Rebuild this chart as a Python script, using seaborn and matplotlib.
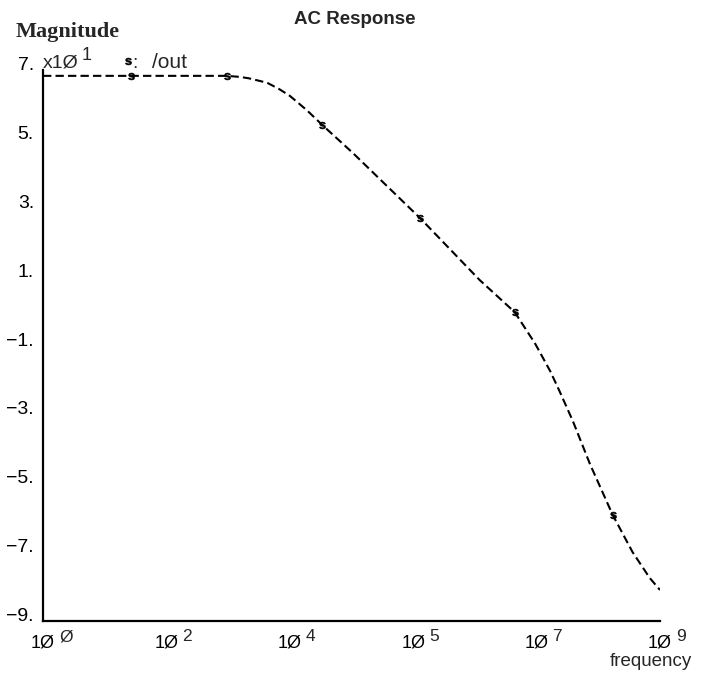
import numpy as np
import pandas as pd
import matplotlib
matplotlib.use("Agg")
import matplotlib.pyplot as plt
import seaborn as sns

# AC sweep of node /out: log10 of frequency (Hz) and magnitude (dB)
log_freq = [0.00, 1.28, 2.68, 2.87, 3.00, 3.27, 3.45, 3.60, 3.85, 4.07,
            4.52, 5.50, 6.37, 6.88, 7.18, 7.40, 7.54, 7.73, 7.98, 8.31,
            8.60, 8.85, 9.00]
magnitude_db = [68.3, 68.3, 68.3, 68.0, 67.6, 66.3, 64.4, 62.5, 58.3, 54.1,
                45.9, 27.0, 9.0, -0.3, -9.5, -17.5, -23.5, -32.0, -44.5, -59.2,
                -70.0, -77.5, -81.0]
# sweep points that carry the trace symbol
marked_points = [1, 2, 9, 11, 13, 19]

# axis ticks
x_tick_log = [0.0, 1.8, 3.6, 5.4, 7.2, 9.0]
x_tick_exp = ["Ø", "2", "4", "5", "7", "9"]
y_ticks = [-90, -70, -50, -30, -10, 10, 30, 50, 70]
y_tick_labels = ["−9.", "−7.", "−5.", "−3.", "−1.", "1.", "3.", "5.", "7."]

trace_name = "/out"

sns.set_theme(style="white")
plt.rcParams["font.family"] = ["Liberation Sans", "DejaVu Sans"]
plt.rcParams["mathtext.fontset"] = "custom"
plt.rcParams["mathtext.bf"] = "Liberation Sans:bold"

df = pd.DataFrame({"freq": np.power(10.0, log_freq), "mag": magnitude_db})

W, H = 702, 675
fig = plt.figure(figsize=(W / 100, H / 100), dpi=100)
ax = fig.add_axes([43 / W, 1 - 621 / H, (660 - 43) / W, (621 - 70) / H])

sym = r"$\mathbf{s}$"
sns.lineplot(data=df, x="freq", y="mag", ax=ax, color="black", estimator=None,
             sort=False, linewidth=1.5, linestyle=(0, (4, 2)),
             marker=sym, markevery=marked_points, markersize=5,
             markerfacecolor="black", markeredgecolor="black",
             markeredgewidth=0.4)

ax.set_xscale("log")
ax.set_xlim(1, 1e9)
ax.set_ylim(-90, 70)
ax.set_xlabel("")
ax.set_ylabel("")

for side in ("top", "right"):
    ax.spines[side].set_visible(False)
for side in ("left", "bottom"):
    ax.spines[side].set_color("black")
    ax.spines[side].set_linewidth(1.6)

xt = np.power(10.0, x_tick_log)
ax.set_xticks(xt)
ax.set_xticklabels(["1Ø"] * len(xt))
ax.xaxis.set_minor_locator(matplotlib.ticker.NullLocator())
ax.set_yticks(y_ticks)
ax.set_yticklabels(y_tick_labels)

ax.tick_params(axis="both", direction="in", length=4, width=1.2,
               colors="black")
ax.tick_params(axis="x", pad=9.5, labelsize=13)
ax.tick_params(axis="y", pad=6.5, labelsize=14)
for lab in ax.get_yticklabels():
    lab.set_va("baseline")

# raised decade exponents beside each "1Ø"
for x, e in zip(xt, x_tick_exp):
    ax.annotate(e, xy=(x, 0), xycoords=ax.get_xaxis_transform(),
                xytext=(11.5, -14.6), textcoords="offset points",
                ha="left", va="baseline", fontsize=12.5, annotation_clip=False)

# scale factor and trace legend above the axis
ax.annotate("x1Ø", xy=(0, 1), xycoords="axes fraction", xytext=(0, 1.5),
            textcoords="offset points", ha="left", va="baseline", fontsize=14)
ax.annotate("1", xy=(0, 1), xycoords="axes fraction", xytext=(28, 7.5),
            textcoords="offset points", ha="left", va="baseline", fontsize=13)
ax.plot([0.137], [1.016], transform=ax.transAxes, marker=sym, markersize=5,
        color="black", markeredgewidth=0.4, clip_on=False)
ax.annotate(":", xy=(0, 1), xycoords="axes fraction", xytext=(64.5, 1.5),
            textcoords="offset points", ha="left", va="baseline", fontsize=14)
ax.annotate(trace_name, xy=(0, 1), xycoords="axes fraction",
            xytext=(78.5, 1.5), textcoords="offset points", ha="left",
            va="baseline", fontsize=15)

fig.text(355 / W, 1 - 24 / H, "AC Response", ha="center", va="baseline",
         fontsize=13.5, fontweight="bold")
fig.text(16 / W, 1 - 37 / H, "Magnitude", ha="left", va="baseline",
         fontsize=16, family="Liberation Serif", fontweight="bold")
fig.text(651 / W, 1 - 666 / H, "frequency", ha="center", va="baseline",
         fontsize=13.5)

fig.savefig("out.png", dpi=100, facecolor="white")
